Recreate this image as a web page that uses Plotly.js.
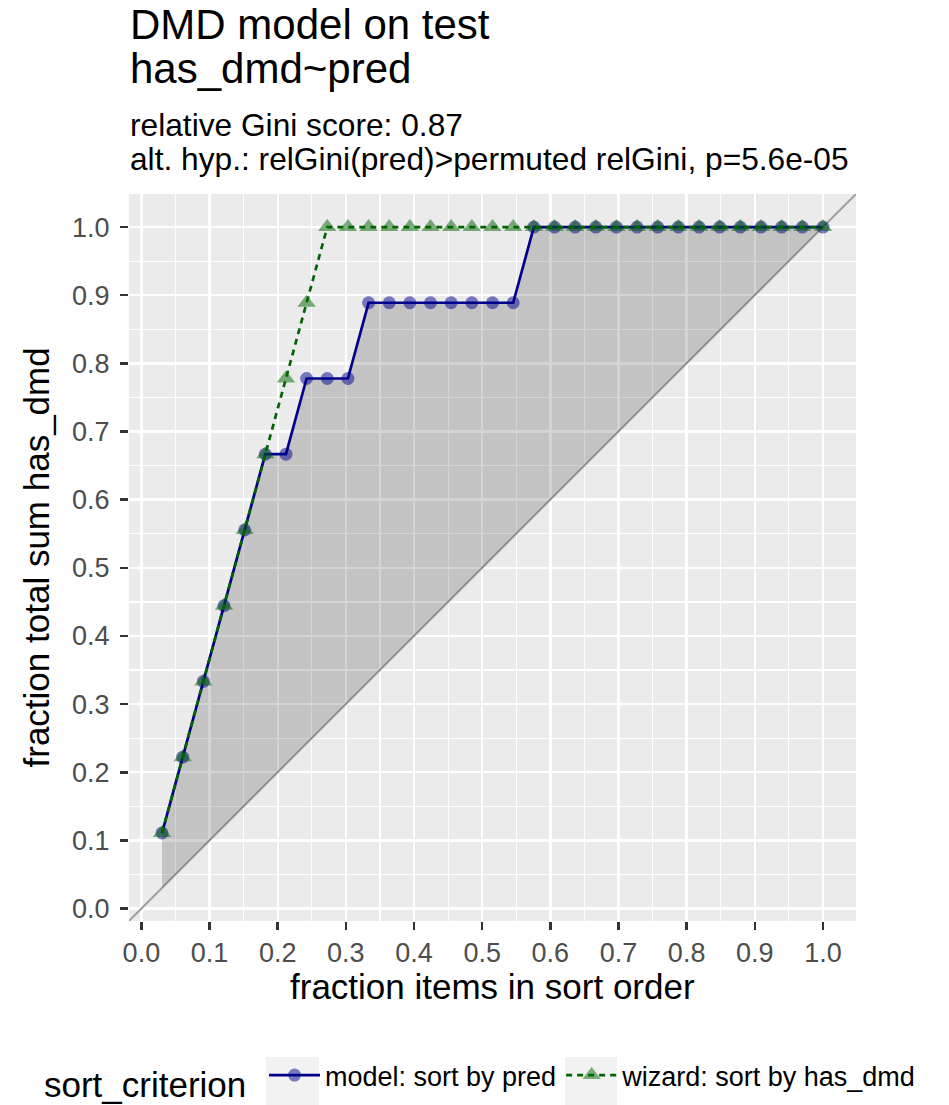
<!DOCTYPE html>
<html>
<head>
<meta charset="utf-8">
<script src="https://cdn.plot.ly/plotly-3.0.1.min.js"></script>
<style>
  html, body { margin: 0; padding: 0; background: #ffffff; }
  #chart { width: 949px; height: 1105px; }
</style>
</head>
<body>
<div id="chart"></div>
<script>
// ---- data ----
const fractionItems = [0.0303, 0.0606, 0.0909, 0.1212, 0.1515, 0.1818, 0.2121, 0.2424, 0.2727, 0.3030,
  0.3333, 0.3636, 0.3939, 0.4242, 0.4545, 0.4848, 0.5152, 0.5455, 0.5758, 0.6061,
  0.6364, 0.6667, 0.6970, 0.7273, 0.7576, 0.7879, 0.8182, 0.8485, 0.8788, 0.9091,
  0.9394, 0.9697, 1.0000];
const modelGain = [0.1111, 0.2222, 0.3333, 0.4444, 0.5556, 0.6667, 0.6667, 0.7778, 0.7778, 0.7778,
  0.8889, 0.8889, 0.8889, 0.8889, 0.8889, 0.8889, 0.8889, 0.8889, 1.0, 1.0,
  1.0, 1.0, 1.0, 1.0, 1.0, 1.0, 1.0, 1.0, 1.0, 1.0,
  1.0, 1.0, 1.0];
const wizardGain = [0.1111, 0.2222, 0.3333, 0.4444, 0.5556, 0.6667, 0.7778, 0.8889, 1.0, 1.0,
  1.0, 1.0, 1.0, 1.0, 1.0, 1.0, 1.0, 1.0, 1.0, 1.0,
  1.0, 1.0, 1.0, 1.0, 1.0, 1.0, 1.0, 1.0, 1.0, 1.0,
  1.0, 1.0, 1.0];
const seriesNames = ["model: sort by pred", "wizard: sort by has_dmd"];
const tickVals = [0.0, 0.1, 0.2, 0.3, 0.4, 0.5, 0.6, 0.7, 0.8, 0.9, 1.0];
const tickText = ["0.0", "0.1", "0.2", "0.3", "0.4", "0.5", "0.6", "0.7", "0.8", "0.9", "1.0"];
const titleLines = ["DMD model on test", "has_dmd~pred"];
const subtitleLines = ["relative Gini score: 0.87", "alt. hyp.: relGini(pred)>permuted relGini, p=5.6e-05"];
const xTitle = "fraction items in sort order";
const yTitle = "fraction total sum has_dmd";
const legendTitle = "sort_criterion";

// ---- layout helpers ----
const W = 949, H = 1105;
const M = { l: 129, r: 93, t: 194, b: 184, autoexpand: false };
const PW = W - M.l - M.r, PH = H - M.t - M.b;
const px = x => (x - M.l) / PW;          // pixel -> paper x
const py = y => (H - M.b - y) / PH;      // pixel -> paper y
const FONT = '"Liberation Sans", Arial, Helvetica, sans-serif';

// axis range: ggplot 5% expansion of data range
const lo = Math.min(...fractionItems), hi = Math.max(...fractionItems);
const pad = (hi - lo) * 0.05;
const range = [lo - pad, hi + pad];

const traces = [
  { // diagonal reference line across the panel
    x: range, y: range, type: 'scatter', mode: 'lines',
    line: { color: '#A0A0A0', width: 2 }, showlegend: false, hoverinfo: 'skip'
  },
  { // ribbon lower edge (diagonal)
    x: fractionItems, y: fractionItems, type: 'scatter', mode: 'lines',
    line: { width: 0 }, showlegend: false, hoverinfo: 'skip'
  },
  { // ribbon upper edge (model)
    x: fractionItems, y: modelGain, type: 'scatter', mode: 'lines',
    line: { width: 0 }, fill: 'tonexty', fillcolor: 'rgba(0,0,0,0.17)',
    showlegend: false, hoverinfo: 'skip'
  },
  {
    x: fractionItems, y: modelGain, type: 'scatter', mode: 'lines+markers',
    name: seriesNames[0],
    line: { color: '#00008B', width: 2.7 },
    marker: { symbol: 'circle', size: 13, color: 'rgba(0,0,139,0.5)', line: { width: 0 } }
  },
  {
    x: fractionItems, y: wizardGain, type: 'scatter', mode: 'lines+markers',
    name: seriesNames[1],
    line: { color: '#006400', width: 2.7, dash: '6px,5px' },
    marker: { symbol: 'triangle-up', size: 16, color: 'rgba(0,100,0,0.5)', line: { width: 0 } }
  }
];

const axisCommon = {
  range: range, autorange: false,
  tickmode: 'array', tickvals: tickVals, ticktext: tickText,
  ticks: 'outside', ticklen: 8, tickwidth: 2.5, tickcolor: '#333333',
  tickfont: { family: FONT, size: 27, color: '#4D4D4D' },
  showgrid: true, gridcolor: '#FFFFFF', gridwidth: 2.4,
  minor: { dtick: 0.05, tick0: 0, showgrid: true, gridcolor: '#FFFFFF', gridwidth: 1.2, ticks: '' },
  zeroline: false, showline: false, fixedrange: true, automargin: false
};

const ann = (text, x, y, size, opts) => Object.assign({
  text: text, xref: 'paper', yref: 'paper', x: x, y: y,
  xanchor: 'left', yanchor: 'top', showarrow: false, align: 'left',
  font: { family: FONT, size: size, color: '#000000' }, borderpad: 0
}, opts || {});

const layout = {
  width: W, height: H, margin: M,
  paper_bgcolor: '#FFFFFF', plot_bgcolor: '#EBEBEB',
  font: { family: FONT, color: '#000000' },
  xaxis: Object.assign({}, axisCommon),
  yaxis: Object.assign({}, axisCommon, { ticklabelstandoff: 5 }),
  showlegend: true,
  legend: {
    orientation: 'h', x: px(42), xanchor: 'left', y: py(1079), yanchor: 'middle',
    font: { family: FONT, size: 27, color: '#000000' },
    title: { text: legendTitle + '\u00a0', side: 'left', font: { family: FONT, size: 35, color: '#000000' } },
    itemwidth: 51, bgcolor: 'rgba(0,0,0,0)', borderwidth: 0, traceorder: 'normal'
  },
  annotations: [
    ann(titleLines[0], 0, py(0), 42),
    ann(titleLines[1], 0, py(44), 42),
    ann(subtitleLines[0], 0, py(106), 31.7),
    ann(subtitleLines[1], 0, py(140), 31.7),
    ann(xTitle, 0.5, py(966), 35, { xanchor: 'center' }),
    ann(yTitle, px(36), 0.5, 35, { xanchor: 'center', yanchor: 'middle', textangle: -90 })
  ],
  shapes: [
    { type: 'rect', xref: 'paper', yref: 'paper', x0: px(266), x1: px(319), y0: py(1105), y1: py(1057),
      fillcolor: '#F2F2F2', line: { width: 0 }, layer: 'below' },
    { type: 'rect', xref: 'paper', yref: 'paper', x0: px(565), x1: px(617), y0: py(1105), y1: py(1057),
      fillcolor: '#F2F2F2', line: { width: 0 }, layer: 'below' }
  ]
};

Plotly.newPlot('chart', traces, layout, { staticPlot: true, displayModeBar: false });
</script>
</body>
</html>
